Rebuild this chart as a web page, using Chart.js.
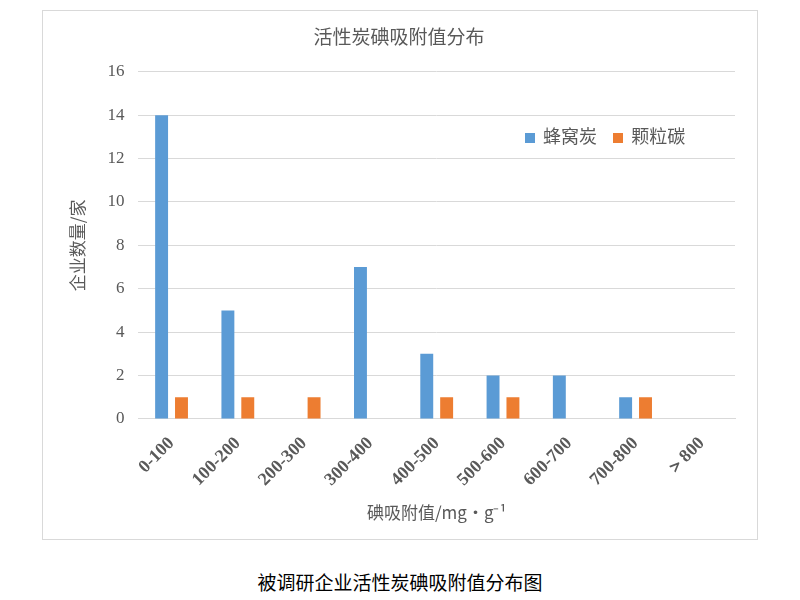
<!DOCTYPE html>
<html>
<head>
<meta charset="utf-8">
<script src="https://cdn.jsdelivr.net/npm/chart.js@4"></script>
<style>
  body { margin: 0; width: 800px; height: 600px; background: #fff; position: relative; font-family: "Noto Sans CJK SC", sans-serif; }
  #box { position: absolute; left: 42px; top: 10px; width: 716px; height: 530px; border: 1px solid #d9d9d9; box-sizing: border-box; }
  #legend { position: absolute; left: 525px; top: 122px; font-size: 18px; color: #595959; }
  #legend span.sw { display: inline-block; width: 10px; height: 10px; margin-right: 8px; }
  #caption { position: absolute; left: 0; width: 800px; top: 568px; text-align: center; font-size: 19px; color: #000; }
</style>
</head>
<body>
<div id="box"><canvas id="chart" width="714" height="528"></canvas></div>
<div id="legend"><span class="sw" style="background:#5b9bd5"></span>蜂窝炭&nbsp;&nbsp;&nbsp;&nbsp;<span class="sw" style="background:#ed7d31"></span>颗粒碳</div>
<div id="caption">被调研企业活性炭碘吸附值分布图</div>
<script>
'use strict';

// Data
const categories = ['0-100', '100-200', '200-300', '300-400', '400-500', '500-600', '600-700', '700-800', '＞800'];
const honeycomb = [14, 5, 0, 7, 3, 2, 2, 1, 0];
const granular = [1, 1, 1, 0, 1, 1, 0, 1, 0];

const colors = {
    blue: '#5b9bd5',
    orange: '#ed7d31',
    text: '#595959',
    grid: '#d9d9d9'
};

new Chart(document.getElementById('chart'), {
    type: 'bar',
    data: {
        labels: categories,
        datasets: [
            { label: '蜂窝炭', data: honeycomb, backgroundColor: colors.blue, barPercentage: 0.65, categoryPercentage: 0.6 },
            { label: '颗粒碳', data: granular, backgroundColor: colors.orange, barPercentage: 0.65, categoryPercentage: 0.6 }
        ]
    },
    options: {
        responsive: false,
        animation: false,
        layout: { padding: { left: 20, right: 22, top: 10, bottom: 12 } },
        plugins: {
            legend: { display: false },
            tooltip: { enabled: false },
            title: {
                display: true,
                text: '活性炭碘吸附值分布',
                color: colors.text,
                font: { size: 19, family: "'Noto Sans CJK SC'", weight: 'normal' },
                padding: { top: 4, bottom: 24 }
            }
        },
        scales: {
            x: {
                grid: { display: false },
                border: { color: colors.grid },
                ticks: {
                    color: colors.text,
                    maxRotation: 45, minRotation: 45,
                    padding: 6,
                    font: { size: 18, weight: 'bold', family: "'Liberation Serif'" }
                },
                title: {
                    display: true,
                    text: '碘吸附值/mg·g⁻¹',
                    color: colors.text,
                    font: { size: 17, family: "'Noto Sans CJK SC'" },
                    padding: { top: 6 }
                }
            },
            y: {
                min: 0, max: 16,
                ticks: { stepSize: 2, color: colors.text, padding: 14, font: { size: 17, family: "'Liberation Serif'" } },
                grid: { color: colors.grid, drawTicks: false },
                border: { display: false },
                title: {
                    display: true,
                    text: '企业数量/家',
                    color: colors.text,
                    font: { size: 17, family: "'Noto Sans CJK SC'" },
                    padding: { bottom: 6 }
                }
            }
        }
    }
});
</script>
</body>
</html>
